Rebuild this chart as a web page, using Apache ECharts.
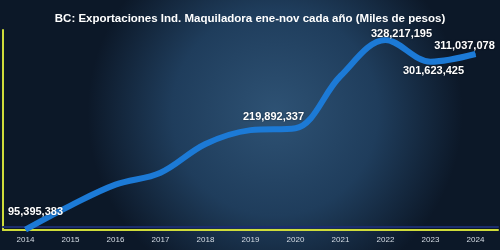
<!DOCTYPE html>
<html>
<head>
<meta charset="utf-8">
<script src="https://cdn.jsdelivr.net/npm/echarts@6/dist/echarts.min.js"></script>
<style>html,body{margin:0;padding:0;background:#0d1b2c;}#c{width:500px;height:250px;}</style>
</head>
<body>
<div id="c"></div>
<script>
const titleText = 'BC: Exportaciones Ind. Maquiladora ene-nov cada año (Miles de pesos)';
const years = ['2014','2015','2016','2017','2018','2019','2020','2021','2022','2023','2024'];
const exportsValues = [95395383, 124800000, 150500000, 165200000, 200500000, 217500000, 219892337, 284000000, 328217195, 301623425, 311037078];
const labeledIndex = [0, 6, 8, 9, 10];
const labelOffsets = {0:[10,-18], 6:[-22,-11], 8:[16,-6], 9:[3,9], 10:[-11,-8]};

const fmt = v => v.toLocaleString('en-US');
const seriesData = exportsValues.map((v, i) => {
  if (labeledIndex.indexOf(i) < 0) return v;
  return {value: v, label: {show: true, position: 'inside', offset: labelOffsets[i], formatter: fmt(v)}};
});

const chart = echarts.init(document.getElementById('c'));
chart.setOption({
  backgroundColor: {
    type: 'radial', x: 0.55, y: 0.45, r: 0.75,
    colorStops: [{offset: 0, color: '#2e5274'}, {offset: 0.55, color: '#1f3d5c'}, {offset: 1, color: '#0c1828'}]
  },
  title: {
    text: titleText, left: 'center', top: 8,
    textStyle: {color: '#ffffff', fontSize: 11.5, fontWeight: 'bold', fontFamily: '"Liberation Sans", sans-serif'}
  },
  grid: {left: 3, right: 2, top: 30, bottom: 20},
  xAxis: {
    type: 'category', data: years, boundaryGap: true,
    axisLine: {lineStyle: {color: '#cfdc3a', width: 2, shadowColor: '#1b2d6e', shadowOffsetY: -3, shadowBlur: 0}},
    axisTick: {show: false},
    axisLabel: {color: '#d5dce4', fontSize: 8, margin: 6, fontFamily: '"Liberation Sans", sans-serif'}
  },
  yAxis: {
    type: 'value', min: 94800000, max: 340500000,
    axisLine: {show: true, lineStyle: {color: '#cfdc3a', width: 2}},
    axisTick: {show: false}, axisLabel: {show: false}, splitLine: {show: false}
  },
  series: [{
    type: 'line', data: seriesData, smooth: 0.35, symbol: 'circle', symbolSize: 1, showSymbol: true,
    itemStyle: {color: '#1c7ad6'},
    lineStyle: {color: '#1c7ad6', width: 6},
    label: {show: false, color: '#ffffff', fontSize: 11, fontWeight: 'bold', fontFamily: '"Liberation Sans", sans-serif',
      textShadowColor: 'rgba(0,0,0,0.5)', textShadowBlur: 2}
  }]
});
</script>
</body>
</html>
